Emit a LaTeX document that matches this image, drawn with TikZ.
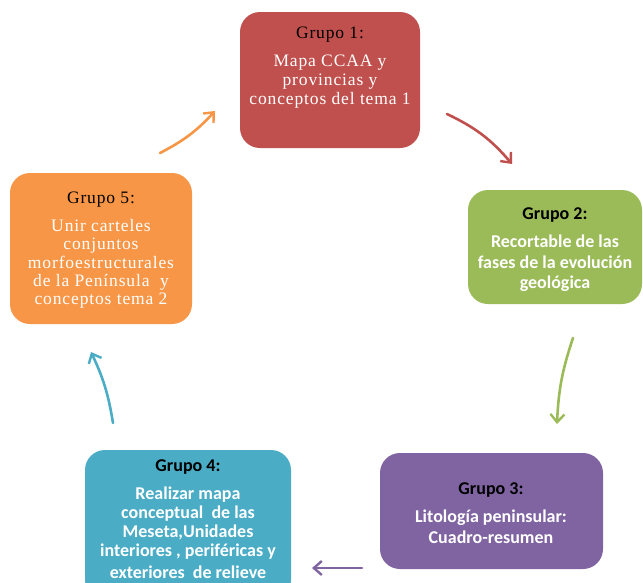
\documentclass[tikz,border=0pt]{standalone}
\usepackage{fontspec}
\setmainfont{Liberation Serif}
\newfontfamily\calfnt{Carlito}
\newfontfamily\serifsp[LetterSpace=5]{Liberation Serif}
\usetikzlibrary{arrows.meta}
\definecolor{cred}{HTML}{C0504D}
\definecolor{cgreen}{HTML}{9BBB59}
\definecolor{cpurple}{HTML}{8064A2}
\definecolor{cblue}{HTML}{4BACC6}
\definecolor{corange}{HTML}{F79646}
\tikzset{
  grp/.style={rounded corners=20pt, inner sep=0pt, draw=none},
  ttl/.style={inner sep=0pt, align=center, anchor=base},
  sertitle/.style={ttl, font=\serifsp\fontsize{17.5}{20}\selectfont},
  sertext/.style={ttl, text=white, font=\serifsp\fontsize{17.5}{20}\selectfont},
  caltitle/.style={ttl, font=\calfnt\bfseries\fontsize{18}{20}\selectfont},
  caltext/.style={ttl, text=white, font=\calfnt\bfseries\fontsize{18}{20}\selectfont},
  flow/.style={line width=2.6pt, line cap=round, -{Straight Barb[length=8pt,width=14pt,line width=2.4pt]}},
}
\begin{document}
\begin{tikzpicture}[x=1pt,y=-1pt]
\useasboundingbox (0,0) rectangle (643,582);
\begin{scope}
\clip (0,0) rectangle (643,582);
% boxes
\path[grp, fill=cred]    (240,12)  rectangle (420,148);
\path[grp, fill=cgreen]  (468,190) rectangle (642,304);
\path[grp, fill=cpurple] (380,453) rectangle (603,569);
\path[grp, fill=cblue]   (85,450)  rectangle (291,600);
\path[grp, fill=corange] (10,173)  rectangle (192,324);
\end{scope}
% Grupo 1
\node[sertitle] (g1t) at (330,38) {Grupo 1:};
\node[sertext] (g1a) at (330,66) {Mapa CCAA y};
\node[sertext] (g1b) at (330,85) {provincias y};
\node[sertext] (g1c) at (330,104) {conceptos del tema 1};
% Grupo 2
\node[caltitle] (g2t) at (555,219) {Grupo 2:};
\node[caltext] (g2a) at (555,247) {Recortable de las};
\node[caltext] (g2b) at (555,268) {fases de la evolución};
\node[caltext] (g2c) at (555,288) {geológica};
% Grupo 3
\node[caltitle] (g3t) at (491,494) {Grupo 3:};
\node[caltext] (g3a) at (491,522) {Litología peninsular:};
\node[caltext] (g3b) at (491,543) {Cuadro-resumen};
% Grupo 4
\node[caltitle] (g4t) at (188,471) {Grupo 4:};
\node[caltext] (g4a) at (188,499) {Realizar mapa};
\node[caltext] (g4b) at (188,518) {conceptual\ \ de las};
\node[caltext] (g4c) at (188,537) {Meseta,Unidades};
\node[caltext] (g4d) at (188,556) {interiores , periféricas y};
\node[caltext] (g4e) at (188,578) {exteriores\ \ de relieve};
% Grupo 5
\node[sertitle] (g5t) at (101,203) {Grupo 5:};
\node[sertext] (g5a) at (101,231) {Unir carteles};
\node[sertext] (g5b) at (101,249) {conjuntos};
\node[sertext] (g5c) at (101,268) {morfoestructurales};
\node[sertext] (g5d) at (101,286) {de la Península\ \ y};
\node[sertext] (g5e) at (101,304) {conceptos tema 2};
% arrow end points
\coordinate (a1s) at (447,114); \coordinate (a1e) at (512,164);
\coordinate (a2s) at (573,338); \coordinate (a2e) at (557,424);
\coordinate (a3s) at (362,568); \coordinate (a3e) at (312,568);
\coordinate (a4s) at (113,423); \coordinate (a4e) at (91,352);
\coordinate (a5s) at (160,153); \coordinate (a5e) at (215,111);
\draw[flow, draw=cred]    (a1s) to[bend left=12] (a1e);
\draw[flow, draw=cgreen]  (a2s) to[bend right=8] (a2e);
\draw[flow, draw=cpurple] (a3s) to (a3e);
\draw[flow, draw=cblue]   (a4s) to[bend right=8] (a4e);
\draw[flow, draw=corange] (a5s) to[bend right=10] (a5e);
\end{tikzpicture}
\end{document}
